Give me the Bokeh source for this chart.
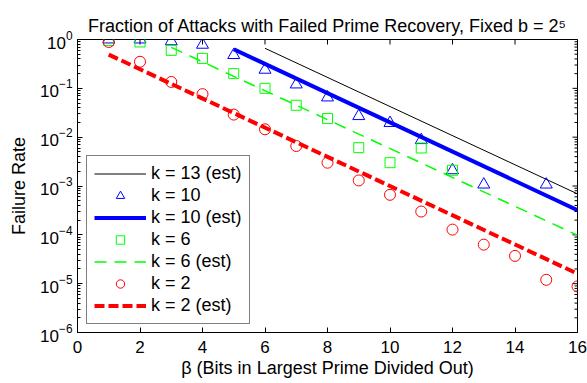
import math
from bokeh.plotting import figure
from bokeh.models import (FixedTicker, Legend, LegendItem, Range1d,
                          LogTickFormatter)
from bokeh.embed import file_html
from bokeh.resources import INLINE

# ---- data ----
bits = list(range(1, 17))
k2 = [0.89, 0.35, 0.135, 0.076, 0.029, 0.0145, 0.0066, 0.003, 0.0013,
      6.6e-4, 3.0e-4, 1.28e-4, 6.3e-5, 3.7e-5, 1.2e-5, 8.8e-6]
bits_k6 = list(range(1, 13))
k6 = [0.95, 0.89, 0.6, 0.41, 0.2, 0.1, 0.045, 0.024, 0.0061, 0.003, 0.006, 0.0021]
bits_k10 = [1, 2, 3, 4, 5, 6, 7, 8, 9, 10, 11, 12, 13, 15]
k10 = [1.0, 1.0, 0.92, 0.78, 0.48, 0.24, 0.12, 0.065, 0.027, 0.0195, 0.0087,
       0.0021, 0.00107, 0.00107]

est_k13_bits = [6, 16]
est_k13 = [0.66, 6.9e-4]
est_k10_bits = [5, 16]
est_k10 = [0.63, 3.2e-4]
est_k6_bits = [3, 16]
est_k6 = [0.69, 9.8e-5]
est_k2_bits = [1, 16]
est_k2 = [0.49, 1.6e-5]

x_ticks = [0, 2, 4, 6, 8, 10, 12, 14, 16]
y_ticks = [1e-6, 1e-5, 1e-4, 1e-3, 1e-2, 1e-1, 1.0]

title_text = "Fraction of Attacks with Failed Prime Recovery, Fixed b = 2\u2075"
x_label = "\u03b2 (Bits in Largest Prime Divided Out)"
y_label = "Failure Rate"

FONT = "Liberation Sans"

y_minor = [m * t for t in y_ticks[:-1] for m in range(2, 10)]

p = figure(width=587, height=383, y_axis_type="log",
           x_range=Range1d(x_ticks[0], x_ticks[-1]),
           y_range=Range1d(y_ticks[0], y_ticks[-1]),
           output_backend="svg", toolbar_location=None,
           min_border_left=77, min_border_right=10,
           min_border_top=39, min_border_bottom=51)
p.grid.visible = False
p.outline_line_color = "black"
p.outline_line_width = 1
p.background_fill_color = "white"
p.border_fill_color = "white"

p.title.text = title_text
p.title.align = "center"
p.title.text_font = FONT
p.title.text_font_size = "18px"
p.title.text_font_style = "normal"
p.title.text_color = "black"
p.title.standoff = 8

xt = FixedTicker(ticks=x_ticks, minor_ticks=[])
yt = FixedTicker(ticks=y_ticks, minor_ticks=y_minor)


def style_axis(ax):
    ax.axis_line_color = "black"
    ax.major_tick_line_color = "black"
    ax.minor_tick_line_color = "black"
    ax.major_tick_in = 5
    ax.major_tick_out = 0
    ax.minor_tick_in = 3
    ax.minor_tick_out = 0
    ax.major_label_text_font = FONT
    ax.major_label_text_font_size = "17px"
    ax.major_label_text_color = "black"
    ax.axis_label_text_font = FONT
    ax.axis_label_text_font_size = "18px"
    ax.axis_label_text_font_style = "normal"
    ax.axis_label_text_color = "black"


xa = p.xaxis[0]
xa.ticker = xt
style_axis(xa)
xa.axis_label = x_label
xa.major_label_standoff = 8
xa.axis_label_standoff = 2

ya = p.yaxis[0]
ya.ticker = yt
ya.formatter = LogTickFormatter()
style_axis(ya)
ya.axis_label = y_label
ya.major_label_standoff = 5
ya.axis_label_standoff = 8

# inward ticks on the top and right edges (MATLAB box style):
# dash markers centred on the frame edge, the outer half is clipped
p.scatter(x_ticks, [y_ticks[-1]] * len(x_ticks), marker="dash", size=10,
          angle=math.pi / 2, line_color="black", line_width=1)
p.scatter([x_ticks[-1]] * len(y_ticks), y_ticks, marker="dash", size=10,
          line_color="black", line_width=1)
p.scatter([x_ticks[-1]] * len(y_minor), y_minor, marker="dash", size=6,
          line_color="black", line_width=1)

# estimated lines
r13e = p.line(est_k13_bits, est_k13, line_color="black", line_width=1)
r10e = p.line(est_k10_bits, est_k10, line_color="blue", line_width=4)
r6e = p.line(est_k6_bits, est_k6, line_color="#00ff00", line_width=1.5,
             line_dash="12 8")
r2e = p.line(est_k2_bits, est_k2, line_color="red", line_width=4,
             line_dash="10 4")

# measured points
r10 = p.scatter(bits_k10, k10, marker="triangle", size=12, fill_color=None,
                line_color="blue", line_width=1)
r6 = p.scatter(bits_k6, k6, marker="square", size=10, fill_color=None,
               line_color="#00ff00", line_width=1)
r2 = p.scatter(bits, k2, marker="circle", size=11, fill_color=None,
               line_color="red", line_width=1)

legend = Legend(items=[
    LegendItem(label="k = 13 (est)", renderers=[r13e]),
    LegendItem(label="k = 10", renderers=[r10]),
    LegendItem(label="k = 10 (est)", renderers=[r10e]),
    LegendItem(label="k = 6", renderers=[r6]),
    LegendItem(label="k = 6 (est)", renderers=[r6e]),
    LegendItem(label="k = 2", renderers=[r2]),
    LegendItem(label="k = 2 (est)", renderers=[r2e]),
], location=(9, 8))
legend.label_text_font = FONT
legend.label_text_font_size = "18px"
legend.label_text_color = "black"
legend.border_line_color = "black"
legend.border_line_width = 1
legend.background_fill_color = "white"
legend.background_fill_alpha = 1
legend.glyph_width = 52
legend.glyph_height = 21
legend.label_height = 21
legend.spacing = 1
legend.padding = 7
legend.label_standoff = 5
legend.margin = 0
p.add_layout(legend, "center")

open("out.html", "w").write(file_html(p, INLINE))
